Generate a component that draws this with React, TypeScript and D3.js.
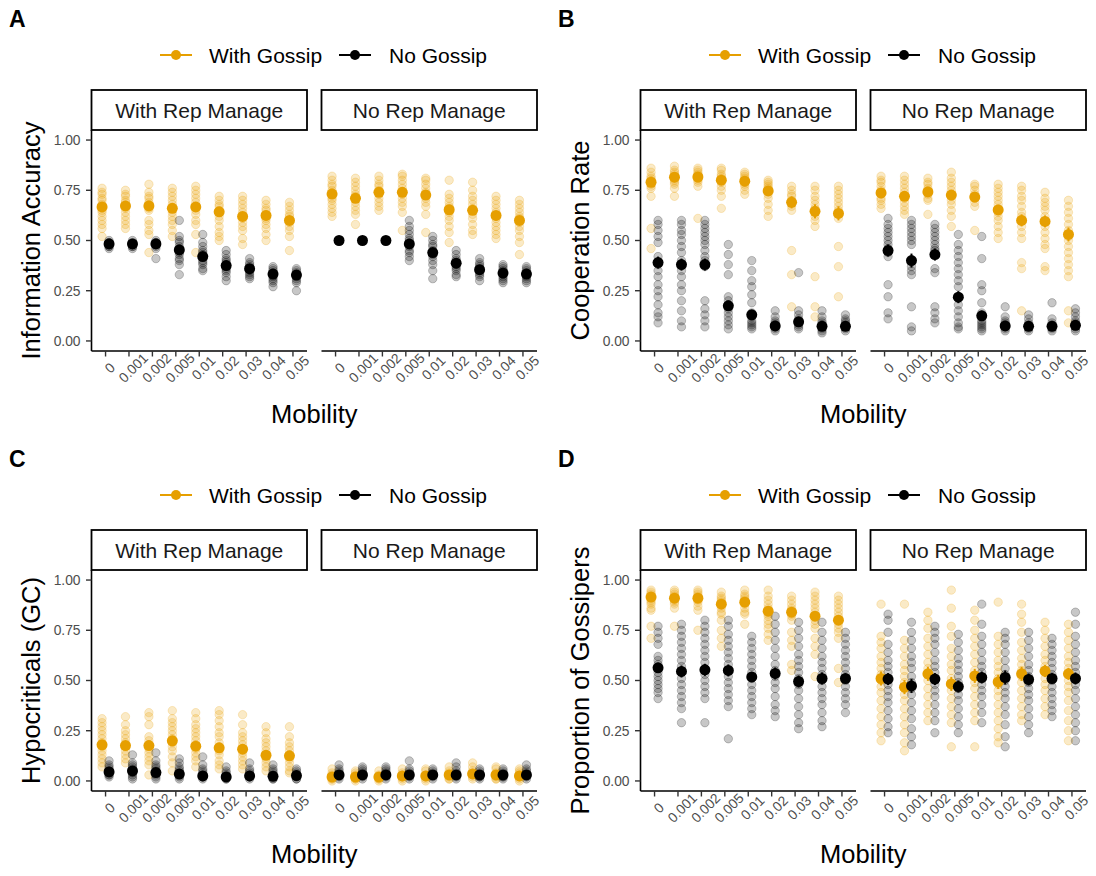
import React from 'react';
import * as d3 from 'd3';

const mobility = ['0', '0.001', '0.002', '0.005', '0.01', '0.02', '0.03', '0.04', '0.05'];
const facets = ['With Rep Manage', 'No Rep Manage'];
const gossip = ['With Gossip', 'No Gossip'];
const yTicks = [0, 0.25, 0.5, 0.75, 1];

// A: Information Accuracy
const accRepG = [
  [0.76, 0.74, 0.73, 0.71, 0.70, 0.68, 0.67, 0.65, 0.64, 0.62, 0.60, 0.58, 0.56, 0.52],
  [0.75, 0.73, 0.72, 0.70, 0.69, 0.67, 0.66, 0.64, 0.62, 0.60, 0.58, 0.56],
  [0.78, 0.74, 0.72, 0.71, 0.69, 0.68, 0.66, 0.65, 0.60, 0.58, 0.55, 0.53, 0.44],
  [0.76, 0.74, 0.72, 0.70, 0.68, 0.66, 0.64, 0.62, 0.60, 0.58, 0.55, 0.52],
  [0.77, 0.75, 0.73, 0.71, 0.69, 0.67, 0.65, 0.63, 0.60, 0.58, 0.53, 0.44],
  [0.72, 0.70, 0.68, 0.67, 0.65, 0.64, 0.62, 0.60, 0.57, 0.54, 0.52, 0.50],
  [0.72, 0.70, 0.68, 0.66, 0.64, 0.62, 0.61, 0.59, 0.57, 0.55, 0.51, 0.48],
  [0.70, 0.68, 0.66, 0.65, 0.63, 0.61, 0.60, 0.58, 0.56, 0.53, 0.50],
  [0.69, 0.67, 0.65, 0.63, 0.62, 0.60, 0.59, 0.57, 0.55, 0.52, 0.45],
];
const accRepGMean = [0.667, 0.672, 0.672, 0.66, 0.667, 0.643, 0.62, 0.625, 0.60];
const accRepGErr = [0.01, 0.01, 0.01, 0.01, 0.01, 0.01, 0.01, 0.01, 0.01];
const accRepN = [
  [0.50, 0.49, 0.49, 0.48, 0.48, 0.48, 0.47, 0.47, 0.46],
  [0.50, 0.49, 0.48, 0.48, 0.48, 0.47, 0.47, 0.46],
  [0.50, 0.49, 0.49, 0.48, 0.48, 0.47, 0.46, 0.41],
  [0.60, 0.52, 0.50, 0.49, 0.47, 0.46, 0.45, 0.44, 0.43, 0.41, 0.40, 0.38, 0.33],
  [0.53, 0.49, 0.47, 0.45, 0.44, 0.43, 0.42, 0.40, 0.39, 0.38, 0.36, 0.35],
  [0.45, 0.43, 0.41, 0.40, 0.39, 0.38, 0.37, 0.36, 0.35, 0.34, 0.32, 0.30],
  [0.41, 0.39, 0.38, 0.37, 0.36, 0.36, 0.35, 0.34, 0.33, 0.32, 0.31],
  [0.37, 0.36, 0.35, 0.34, 0.33, 0.33, 0.32, 0.31, 0.30, 0.29, 0.27],
  [0.36, 0.35, 0.34, 0.33, 0.33, 0.32, 0.31, 0.30, 0.29, 0.25],
];
const accRepNMean = [0.483, 0.483, 0.483, 0.453, 0.42, 0.375, 0.36, 0.333, 0.328];
const accRepNErr = [0.005, 0.005, 0.005, 0.01, 0.01, 0.01, 0.01, 0.01, 0.01];
const accNoG = [
  [0.82, 0.80, 0.78, 0.77, 0.75, 0.74, 0.73, 0.71, 0.70, 0.68, 0.66, 0.64, 0.62],
  [0.81, 0.79, 0.77, 0.75, 0.73, 0.72, 0.71, 0.69, 0.67, 0.65, 0.63, 0.58],
  [0.82, 0.80, 0.78, 0.77, 0.75, 0.74, 0.73, 0.71, 0.69, 0.67, 0.65],
  [0.83, 0.82, 0.80, 0.78, 0.76, 0.74, 0.73, 0.71, 0.69, 0.67, 0.64, 0.55],
  [0.81, 0.80, 0.78, 0.76, 0.74, 0.73, 0.71, 0.69, 0.67, 0.63, 0.54],
  [0.80, 0.73, 0.71, 0.69, 0.67, 0.66, 0.64, 0.62, 0.60, 0.57, 0.54, 0.49],
  [0.79, 0.75, 0.72, 0.70, 0.68, 0.66, 0.65, 0.63, 0.61, 0.58, 0.55, 0.53],
  [0.72, 0.70, 0.68, 0.66, 0.64, 0.62, 0.61, 0.59, 0.57, 0.55, 0.53, 0.51],
  [0.70, 0.68, 0.66, 0.64, 0.62, 0.61, 0.59, 0.57, 0.55, 0.52, 0.49, 0.43],
];
const accNoGMean = [0.731, 0.71, 0.74, 0.74, 0.726, 0.653, 0.65, 0.625, 0.60];
const accNoGErr = [0.01, 0.01, 0.01, 0.01, 0.01, 0.015, 0.015, 0.01, 0.015];
const accNoN = [
  [0.50, 0.50, 0.50],
  [0.50, 0.50, 0.50],
  [0.50, 0.50, 0.50],
  [0.60, 0.57, 0.55, 0.53, 0.51, 0.50, 0.48, 0.47, 0.45, 0.44, 0.42, 0.40],
  [0.52, 0.50, 0.48, 0.47, 0.45, 0.44, 0.43, 0.42, 0.40, 0.38, 0.35, 0.31],
  [0.45, 0.43, 0.41, 0.40, 0.39, 0.38, 0.37, 0.36, 0.35, 0.33, 0.32],
  [0.41, 0.39, 0.38, 0.37, 0.36, 0.35, 0.34, 0.33, 0.32, 0.30],
  [0.38, 0.37, 0.36, 0.35, 0.34, 0.33, 0.32, 0.31, 0.30, 0.29],
  [0.37, 0.36, 0.35, 0.34, 0.33, 0.32, 0.31, 0.30, 0.29],
];
const accNoNMean = [0.50, 0.50, 0.50, 0.483, 0.44, 0.387, 0.355, 0.338, 0.333];
const accNoNErr = [0, 0, 0, 0.01, 0.01, 0.01, 0.01, 0.01, 0.01];

// B: Cooperation Rate
const coopRepG = [
  [0.86, 0.84, 0.82, 0.81, 0.80, 0.79, 0.78, 0.77, 0.76, 0.72, 0.56, 0.46],
  [0.87, 0.85, 0.84, 0.83, 0.82, 0.81, 0.80, 0.79, 0.78, 0.76, 0.72],
  [0.86, 0.85, 0.84, 0.83, 0.82, 0.81, 0.80, 0.79, 0.77, 0.61],
  [0.86, 0.85, 0.83, 0.82, 0.81, 0.80, 0.79, 0.77, 0.75, 0.72, 0.66],
  [0.84, 0.83, 0.82, 0.81, 0.80, 0.79, 0.78, 0.77, 0.75, 0.73],
  [0.80, 0.79, 0.78, 0.77, 0.76, 0.75, 0.73, 0.71, 0.68, 0.65, 0.62],
  [0.77, 0.75, 0.73, 0.72, 0.70, 0.69, 0.67, 0.65, 0.45, 0.33, 0.17],
  [0.77, 0.75, 0.72, 0.70, 0.68, 0.66, 0.64, 0.62, 0.60, 0.57, 0.32, 0.17, 0.12],
  [0.77, 0.75, 0.73, 0.71, 0.69, 0.67, 0.65, 0.63, 0.61, 0.47, 0.37, 0.22],
];
const coopRepGMean = [0.79, 0.815, 0.816, 0.80, 0.795, 0.747, 0.69, 0.645, 0.635];
const coopRepGErr = [0.02, 0.01, 0.012, 0.015, 0.01, 0.015, 0.03, 0.035, 0.035];
const coopRepN = [
  [0.60, 0.58, 0.55, 0.52, 0.49, 0.42, 0.38, 0.35, 0.32, 0.28, 0.25, 0.22, 0.18, 0.14, 0.12, 0.09],
  [0.60, 0.58, 0.55, 0.53, 0.50, 0.47, 0.44, 0.40, 0.35, 0.32, 0.28, 0.25, 0.20, 0.15, 0.10, 0.07],
  [0.60, 0.58, 0.56, 0.54, 0.52, 0.50, 0.48, 0.45, 0.42, 0.40, 0.37, 0.20, 0.16, 0.13, 0.10, 0.07],
  [0.48, 0.43, 0.38, 0.33, 0.22, 0.20, 0.18, 0.16, 0.14, 0.12, 0.10, 0.08, 0.06],
  [0.40, 0.35, 0.30, 0.27, 0.23, 0.19, 0.14, 0.12, 0.10, 0.09, 0.08, 0.07, 0.06],
  [0.15, 0.12, 0.10, 0.09, 0.08, 0.07, 0.07, 0.06, 0.05],
  [0.34, 0.15, 0.13, 0.11, 0.10, 0.09, 0.08, 0.07, 0.06],
  [0.15, 0.12, 0.10, 0.09, 0.08, 0.07, 0.06, 0.05, 0.04],
  [0.13, 0.11, 0.10, 0.09, 0.08, 0.07, 0.06, 0.05],
];
const coopRepNMean = [0.39, 0.38, 0.38, 0.175, 0.13, 0.075, 0.095, 0.073, 0.073];
const coopRepNErr = [0.03, 0.03, 0.03, 0.025, 0.02, 0.01, 0.012, 0.01, 0.01];
const coopNoG = [
  [0.82, 0.80, 0.79, 0.77, 0.75, 0.74, 0.73, 0.71, 0.70, 0.68, 0.66],
  [0.82, 0.80, 0.78, 0.76, 0.74, 0.72, 0.71, 0.69, 0.67, 0.65, 0.63],
  [0.81, 0.79, 0.78, 0.76, 0.75, 0.74, 0.73, 0.71, 0.70, 0.63],
  [0.84, 0.81, 0.79, 0.77, 0.75, 0.73, 0.72, 0.70, 0.68, 0.65, 0.62, 0.57],
  [0.78, 0.77, 0.75, 0.73, 0.72, 0.71, 0.69, 0.67, 0.55],
  [0.78, 0.76, 0.74, 0.72, 0.70, 0.68, 0.66, 0.64, 0.62, 0.60, 0.57, 0.54, 0.51],
  [0.77, 0.75, 0.72, 0.70, 0.67, 0.64, 0.62, 0.60, 0.57, 0.54, 0.51, 0.39, 0.36, 0.15],
  [0.74, 0.71, 0.69, 0.67, 0.65, 0.62, 0.60, 0.57, 0.54, 0.51, 0.48, 0.46, 0.37, 0.35],
  [0.70, 0.67, 0.64, 0.61, 0.58, 0.55, 0.52, 0.50, 0.47, 0.44, 0.41, 0.38, 0.35, 0.32, 0.15, 0.09],
];
const coopNoGMean = [0.737, 0.72, 0.742, 0.726, 0.716, 0.652, 0.60, 0.595, 0.53];
const coopNoGErr = [0.015, 0.02, 0.015, 0.02, 0.015, 0.02, 0.03, 0.03, 0.035];
const coopNoN = [
  [0.61, 0.58, 0.56, 0.54, 0.52, 0.50, 0.48, 0.46, 0.44, 0.42, 0.28, 0.22, 0.14, 0.11],
  [0.60, 0.58, 0.56, 0.54, 0.52, 0.50, 0.48, 0.37, 0.35, 0.33, 0.17, 0.07, 0.05],
  [0.58, 0.56, 0.54, 0.52, 0.50, 0.48, 0.46, 0.45, 0.36, 0.34, 0.17, 0.14, 0.11, 0.09],
  [0.53, 0.48, 0.45, 0.42, 0.39, 0.36, 0.33, 0.30, 0.27, 0.22, 0.18, 0.15, 0.12, 0.09, 0.07, 0.06],
  [0.52, 0.41, 0.28, 0.25, 0.19, 0.14, 0.12, 0.10, 0.09, 0.08, 0.07, 0.06, 0.05],
  [0.17, 0.12, 0.10, 0.09, 0.08, 0.07, 0.06, 0.05],
  [0.13, 0.11, 0.09, 0.08, 0.07, 0.06, 0.05],
  [0.19, 0.11, 0.09, 0.08, 0.07, 0.06, 0.05],
  [0.16, 0.14, 0.12, 0.10, 0.09, 0.08, 0.07, 0.06, 0.05],
];
const coopNoNMean = [0.45, 0.40, 0.43, 0.218, 0.125, 0.075, 0.073, 0.073, 0.078];
const coopNoNErr = [0.03, 0.035, 0.03, 0.03, 0.025, 0.01, 0.01, 0.01, 0.01];

// C: Hypocriticals (GC)
const hypRepG = [
  [0.31, 0.29, 0.27, 0.25, 0.23, 0.21, 0.19, 0.17, 0.15, 0.13, 0.11, 0.09, 0.07],
  [0.32, 0.28, 0.25, 0.23, 0.21, 0.19, 0.17, 0.15, 0.13, 0.11, 0.09],
  [0.34, 0.32, 0.28, 0.22, 0.20, 0.18, 0.16, 0.14, 0.12, 0.10, 0.08, 0.03],
  [0.35, 0.31, 0.29, 0.27, 0.25, 0.23, 0.21, 0.19, 0.17, 0.15, 0.12, 0.09, 0.05],
  [0.34, 0.31, 0.28, 0.26, 0.24, 0.22, 0.20, 0.18, 0.16, 0.14, 0.12, 0.10, 0.07],
  [0.35, 0.33, 0.30, 0.27, 0.24, 0.22, 0.19, 0.17, 0.15, 0.13, 0.10, 0.08, 0.06],
  [0.33, 0.28, 0.24, 0.22, 0.20, 0.18, 0.16, 0.14, 0.12, 0.10, 0.08, 0.06],
  [0.27, 0.24, 0.21, 0.19, 0.17, 0.15, 0.13, 0.11, 0.09, 0.07, 0.05],
  [0.27, 0.22, 0.19, 0.17, 0.15, 0.13, 0.11, 0.09, 0.07, 0.05, 0.04],
];
const hypRepGMean = [0.18, 0.176, 0.176, 0.20, 0.173, 0.165, 0.158, 0.128, 0.125];
const hypRepGErr = [0.015, 0.015, 0.015, 0.015, 0.015, 0.015, 0.015, 0.015, 0.015];
const hypRepN = [
  [0.10, 0.08, 0.07, 0.06, 0.05, 0.05, 0.04, 0.03, 0.03, 0.02],
  [0.13, 0.09, 0.08, 0.07, 0.06, 0.05, 0.04, 0.03, 0.02, 0.01],
  [0.14, 0.10, 0.08, 0.07, 0.06, 0.05, 0.04, 0.03, 0.02, 0.01],
  [0.11, 0.09, 0.07, 0.06, 0.05, 0.04, 0.03, 0.02, 0.01],
  [0.12, 0.08, 0.06, 0.05, 0.04, 0.03, 0.02, 0.02, 0.01],
  [0.07, 0.05, 0.04, 0.03, 0.02, 0.02, 0.01, 0.01],
  [0.09, 0.06, 0.05, 0.04, 0.03, 0.02, 0.02, 0.01],
  [0.08, 0.06, 0.05, 0.04, 0.03, 0.02, 0.01, 0.01],
  [0.06, 0.05, 0.04, 0.03, 0.03, 0.02, 0.01, 0.01],
];
const hypRepNMean = [0.045, 0.05, 0.042, 0.034, 0.025, 0.02, 0.025, 0.023, 0.027];
const hypRepNErr = [0.008, 0.008, 0.008, 0.008, 0.008, 0.006, 0.006, 0.006, 0.006];
const hypNoG = [
  [0.06, 0.04, 0.03, 0.02, 0.02, 0.01, 0.01, 0.00],
  [0.05, 0.04, 0.03, 0.02, 0.01, 0.01, 0.00],
  [0.05, 0.03, 0.02, 0.02, 0.01, 0.01, 0.00],
  [0.06, 0.04, 0.03, 0.02, 0.02, 0.01, 0.00],
  [0.06, 0.05, 0.03, 0.02, 0.02, 0.01, 0.00],
  [0.07, 0.05, 0.04, 0.03, 0.02, 0.01, 0.01],
  [0.09, 0.07, 0.05, 0.04, 0.03, 0.02, 0.01],
  [0.07, 0.06, 0.04, 0.03, 0.02, 0.01, 0.01],
  [0.06, 0.05, 0.04, 0.03, 0.02, 0.01, 0.00],
];
const hypNoGMean = [0.02, 0.02, 0.02, 0.025, 0.025, 0.03, 0.035, 0.03, 0.025];
const hypNoGErr = [0.006, 0.006, 0.006, 0.006, 0.006, 0.006, 0.008, 0.006, 0.006];
const hypNoN = [
  [0.08, 0.06, 0.05, 0.04, 0.03, 0.03, 0.02, 0.01],
  [0.07, 0.06, 0.05, 0.04, 0.03, 0.02, 0.01],
  [0.07, 0.06, 0.05, 0.04, 0.03, 0.02, 0.01],
  [0.10, 0.06, 0.05, 0.04, 0.03, 0.02, 0.01],
  [0.06, 0.05, 0.04, 0.03, 0.03, 0.02, 0.01],
  [0.09, 0.07, 0.05, 0.04, 0.03, 0.02, 0.01],
  [0.06, 0.05, 0.04, 0.03, 0.02, 0.02, 0.01],
  [0.06, 0.05, 0.04, 0.03, 0.02, 0.02, 0.01],
  [0.08, 0.06, 0.05, 0.04, 0.03, 0.02, 0.01],
];
const hypNoNMean = [0.03, 0.03, 0.03, 0.03, 0.03, 0.03, 0.03, 0.03, 0.03];
const hypNoNErr = [0.006, 0.006, 0.006, 0.006, 0.006, 0.006, 0.006, 0.006, 0.006];

// D: Proportion of Gossipers
const propRepG = [
  [0.95, 0.94, 0.93, 0.92, 0.91, 0.90, 0.89, 0.88, 0.86, 0.85, 0.77, 0.71],
  [0.95, 0.94, 0.93, 0.92, 0.91, 0.90, 0.89, 0.88, 0.86, 0.77],
  [0.95, 0.94, 0.93, 0.92, 0.91, 0.90, 0.89, 0.87, 0.85, 0.75],
  [0.94, 0.92, 0.91, 0.90, 0.89, 0.88, 0.86, 0.84, 0.83, 0.80, 0.75, 0.71, 0.67],
  [0.95, 0.93, 0.92, 0.91, 0.90, 0.89, 0.88, 0.86, 0.84, 0.83, 0.78],
  [0.95, 0.92, 0.90, 0.88, 0.86, 0.85, 0.83, 0.82, 0.80, 0.78, 0.76, 0.73, 0.70],
  [0.92, 0.90, 0.88, 0.86, 0.85, 0.83, 0.82, 0.80, 0.74, 0.70, 0.67, 0.58, 0.55],
  [0.94, 0.92, 0.90, 0.88, 0.86, 0.84, 0.82, 0.80, 0.78, 0.76, 0.71, 0.67, 0.63, 0.52],
  [0.92, 0.90, 0.88, 0.86, 0.84, 0.82, 0.80, 0.78, 0.76, 0.74, 0.71, 0.56, 0.49],
];
const propRepGMean = [0.915, 0.91, 0.91, 0.88, 0.89, 0.845, 0.84, 0.82, 0.80];
const propRepGErr = [0.01, 0.01, 0.01, 0.015, 0.01, 0.015, 0.02, 0.02, 0.02];
const propRepN = [
  [0.77, 0.74, 0.71, 0.68, 0.62, 0.60, 0.58, 0.56, 0.54, 0.52, 0.50, 0.48, 0.46, 0.44, 0.41],
  [0.78, 0.75, 0.72, 0.69, 0.66, 0.63, 0.60, 0.57, 0.54, 0.51, 0.48, 0.45, 0.42, 0.39, 0.36, 0.29],
  [0.80, 0.77, 0.74, 0.71, 0.68, 0.65, 0.62, 0.59, 0.56, 0.53, 0.50, 0.47, 0.44, 0.41, 0.29],
  [0.80, 0.77, 0.73, 0.70, 0.67, 0.64, 0.61, 0.58, 0.55, 0.52, 0.49, 0.46, 0.43, 0.40, 0.37, 0.21],
  [0.72, 0.69, 0.66, 0.63, 0.60, 0.57, 0.54, 0.51, 0.48, 0.45, 0.42, 0.39, 0.36, 0.33],
  [0.82, 0.78, 0.74, 0.70, 0.66, 0.62, 0.58, 0.55, 0.52, 0.49, 0.46, 0.42, 0.38, 0.35, 0.32],
  [0.79, 0.75, 0.71, 0.67, 0.63, 0.60, 0.57, 0.54, 0.51, 0.48, 0.45, 0.41, 0.37, 0.33, 0.29, 0.26],
  [0.79, 0.74, 0.70, 0.66, 0.62, 0.59, 0.56, 0.53, 0.50, 0.47, 0.44, 0.41, 0.38, 0.34, 0.30, 0.27],
  [0.74, 0.71, 0.68, 0.65, 0.62, 0.59, 0.56, 0.53, 0.50, 0.47, 0.44, 0.41, 0.38, 0.34],
];
const propRepNMean = [0.563, 0.545, 0.553, 0.55, 0.518, 0.535, 0.495, 0.51, 0.51];
const propRepNErr = [0.025, 0.03, 0.03, 0.03, 0.025, 0.03, 0.03, 0.03, 0.025];
const propNoG = [
  [0.88, 0.72, 0.69, 0.66, 0.62, 0.59, 0.56, 0.53, 0.50, 0.47, 0.44, 0.40, 0.36, 0.32, 0.28, 0.24, 0.20],
  [0.88, 0.70, 0.66, 0.62, 0.58, 0.55, 0.52, 0.49, 0.46, 0.43, 0.40, 0.36, 0.32, 0.28, 0.24, 0.19, 0.15],
  [0.84, 0.80, 0.76, 0.71, 0.67, 0.63, 0.59, 0.56, 0.53, 0.50, 0.46, 0.42, 0.38, 0.34, 0.30],
  [0.95, 0.86, 0.77, 0.72, 0.66, 0.62, 0.58, 0.55, 0.51, 0.48, 0.45, 0.41, 0.37, 0.33, 0.29, 0.17],
  [0.85, 0.80, 0.75, 0.71, 0.67, 0.63, 0.59, 0.55, 0.52, 0.49, 0.46, 0.42, 0.38, 0.34, 0.30, 0.17],
  [0.89, 0.72, 0.68, 0.64, 0.60, 0.57, 0.54, 0.51, 0.48, 0.45, 0.42, 0.38, 0.34, 0.30, 0.26, 0.22, 0.19],
  [0.88, 0.83, 0.79, 0.74, 0.69, 0.65, 0.61, 0.58, 0.55, 0.52, 0.49, 0.45, 0.41, 0.37, 0.33, 0.30],
  [0.79, 0.75, 0.71, 0.67, 0.63, 0.60, 0.57, 0.54, 0.51, 0.48, 0.45, 0.41, 0.37, 0.33],
  [0.78, 0.74, 0.70, 0.66, 0.62, 0.59, 0.56, 0.53, 0.50, 0.47, 0.44, 0.40, 0.35, 0.30, 0.25, 0.20],
];
const propNoGMean = [0.51, 0.467, 0.533, 0.483, 0.523, 0.493, 0.533, 0.547, 0.533];
const propNoGErr = [0.035, 0.035, 0.035, 0.035, 0.035, 0.035, 0.035, 0.03, 0.03];
const propNoN = [
  [0.83, 0.80, 0.74, 0.68, 0.64, 0.60, 0.57, 0.54, 0.51, 0.48, 0.45, 0.42, 0.39, 0.35, 0.31, 0.27, 0.24],
  [0.79, 0.74, 0.70, 0.66, 0.62, 0.59, 0.56, 0.52, 0.49, 0.46, 0.43, 0.39, 0.35, 0.31, 0.26, 0.22, 0.18],
  [0.77, 0.74, 0.71, 0.68, 0.64, 0.60, 0.57, 0.54, 0.51, 0.48, 0.45, 0.42, 0.38, 0.34, 0.30, 0.24],
  [0.73, 0.69, 0.65, 0.61, 0.58, 0.55, 0.52, 0.49, 0.46, 0.43, 0.40, 0.36, 0.32, 0.28, 0.24],
  [0.88, 0.78, 0.72, 0.68, 0.64, 0.60, 0.57, 0.54, 0.51, 0.48, 0.45, 0.42, 0.38, 0.34, 0.29],
  [0.74, 0.71, 0.68, 0.64, 0.60, 0.56, 0.53, 0.50, 0.47, 0.44, 0.41, 0.37, 0.33, 0.28, 0.22, 0.17],
  [0.74, 0.70, 0.66, 0.62, 0.58, 0.55, 0.52, 0.49, 0.46, 0.43, 0.40, 0.36, 0.32, 0.28, 0.24],
  [0.71, 0.68, 0.65, 0.62, 0.59, 0.56, 0.53, 0.50, 0.47, 0.44, 0.41, 0.38, 0.35, 0.32],
  [0.84, 0.78, 0.72, 0.68, 0.64, 0.60, 0.57, 0.54, 0.51, 0.48, 0.45, 0.41, 0.37, 0.33, 0.29, 0.25, 0.20],
];
const propNoNMean = [0.507, 0.473, 0.507, 0.47, 0.515, 0.515, 0.505, 0.51, 0.51];
const propNoNErr = [0.03, 0.035, 0.03, 0.03, 0.03, 0.035, 0.03, 0.025, 0.03];

const ORANGE = '#E69F00';
const colors = [ORANGE, '#000000'];
const FONT = 'Liberation Sans, Arial, sans-serif';

// layout of a single panel (panel A); the others are offset
const FACET_X = [[91.5, 307], [321.5, 537]];
const STRIP_TOP = 90;
const STRIP_BOTTOM = 130;
const PLOT_BOTTOM = 351;

const panels = [
  {
    tag: 'A', title: 'Information Accuracy', dx: 0, dy: 0,
    groups: [
      [{ points: accRepG, mean: accRepGMean, err: accRepGErr }, { points: accRepN, mean: accRepNMean, err: accRepNErr }],
      [{ points: accNoG, mean: accNoGMean, err: accNoGErr }, { points: accNoN, mean: accNoNMean, err: accNoNErr }],
    ],
  },
  {
    tag: 'B', title: 'Cooperation Rate', dx: 549, dy: 0,
    groups: [
      [{ points: coopRepG, mean: coopRepGMean, err: coopRepGErr }, { points: coopRepN, mean: coopRepNMean, err: coopRepNErr }],
      [{ points: coopNoG, mean: coopNoGMean, err: coopNoGErr }, { points: coopNoN, mean: coopNoNMean, err: coopNoNErr }],
    ],
  },
  {
    tag: 'C', title: 'Hypocriticals (GC)', dx: 0, dy: 440,
    groups: [
      [{ points: hypRepG, mean: hypRepGMean, err: hypRepGErr }, { points: hypRepN, mean: hypRepNMean, err: hypRepNErr }],
      [{ points: hypNoG, mean: hypNoGMean, err: hypNoGErr }, { points: hypNoN, mean: hypNoNMean, err: hypNoNErr }],
    ],
  },
  {
    tag: 'D', title: 'Proportion of Gossipers', dx: 549, dy: 440,
    groups: [
      [{ points: propRepG, mean: propRepGMean, err: propRepGErr }, { points: propRepN, mean: propRepNMean, err: propRepNErr }],
      [{ points: propNoG, mean: propNoGMean, err: propNoGErr }, { points: propNoN, mean: propNoNMean, err: propNoNErr }],
    ],
  },
];

function Panel({ tag, title, dx, dy, groups }) {
  const y = d3.scaleLinear().domain([-0.05, 1.05]).range([PLOT_BOTTOM, STRIP_BOTTOM]);
  const dodge = d3.scalePoint().domain(gossip).range([-3.5, 3.5]);
  const legendX = [160, 339];
  const legendTextX = [209, 389];

  return (
    <g transform={`translate(${dx},${dy})`} fontFamily={FONT}>
      <text x={9} y={27} fontSize={23} fontWeight="bold">{tag}</text>

      {/* legend */}
      {gossip.map((g, i) => (
        <g key={g}>
          <line x1={legendX[i]} x2={legendX[i] + 32} y1={55} y2={55} stroke={colors[i]} strokeWidth={2} />
          <circle cx={legendX[i] + 16} cy={55} r={5} fill={colors[i]} />
          <text x={legendTextX[i]} y={63} fontSize={21}>{g}</text>
        </g>
      ))}

      {/* y axis */}
      <text
        transform={`translate(40,${(STRIP_BOTTOM + PLOT_BOTTOM) / 2}) rotate(-90)`}
        textAnchor="middle" fontSize={25.5}
      >{title}</text>
      <line x1={FACET_X[0][0]} x2={FACET_X[0][0]} y1={STRIP_BOTTOM} y2={PLOT_BOTTOM} stroke="#000" strokeWidth={1.6} />
      {yTicks.map((t) => (
        <g key={t}>
          <line x1={FACET_X[0][0] - 5.5} x2={FACET_X[0][0]} y1={y(t)} y2={y(t)} stroke="#333" strokeWidth={1.4} />
          <text x={FACET_X[0][0] - 11} y={y(t)} dy="0.35em" textAnchor="end" fontSize={13.8} fill="#4D4D4D">
            {d3.format('.2f')(t)}
          </text>
        </g>
      ))}

      {facets.map((f, fi) => {
        const [x0, x1] = FACET_X[fi];
        const x = d3.scalePoint().domain(mobility).range([x0, x1]).padding(0.6);
        return (
          <g key={f}>
            <rect x={x0} y={STRIP_TOP} width={x1 - x0} height={STRIP_BOTTOM - STRIP_TOP}
              fill="#fff" stroke="#000" strokeWidth={1.8} />
            <text x={(x0 + x1) / 2} y={STRIP_TOP + 28} textAnchor="middle" fontSize={21} fill="#1A1A1A">{f}</text>

            <line x1={x0} x2={x1} y1={PLOT_BOTTOM} y2={PLOT_BOTTOM} stroke="#000" strokeWidth={1.6} />
            {mobility.map((m) => (
              <g key={m}>
                <line x1={x(m)} x2={x(m)} y1={PLOT_BOTTOM} y2={PLOT_BOTTOM + 5.5} stroke="#333" strokeWidth={1.4} />
                <text
                  transform={`translate(${x(m) + 4.5},${PLOT_BOTTOM + 17}) rotate(-45)`}
                  textAnchor="middle" dominantBaseline="central" fontSize={13.8} fill="#4D4D4D"
                >{m}</text>
              </g>
            ))}

            {/* raw runs */}
            {groups[fi].map((grp, gi) => (
              <g key={gossip[gi]}>
                {grp.points.map((vals, ci) =>
                  vals.map((v, k) => (
                    <circle key={`${ci}-${k}`} cx={x(mobility[ci]) + dodge(gossip[gi])} cy={y(v)} r={4.2}
                      fill={colors[gi]} stroke={colors[gi]} strokeWidth={1}
                      fillOpacity={0.22} strokeOpacity={0.22} />
                  ))
                )}
              </g>
            ))}

            {/* means with error bars */}
            {groups[fi].map((grp, gi) => (
              <g key={`m-${gossip[gi]}`}>
                {grp.mean.map((v, ci) => {
                  const cx = x(mobility[ci]) + dodge(gossip[gi]);
                  return (
                    <g key={ci}>
                      <line x1={cx} x2={cx} y1={y(v - grp.err[ci])} y2={y(v + grp.err[ci])}
                        stroke={colors[gi]} strokeWidth={2} />
                      <circle cx={cx} cy={y(v)} r={5.5} fill={colors[gi]} />
                    </g>
                  );
                })}
              </g>
            ))}
          </g>
        );
      })}

      <text x={(FACET_X[0][0] + FACET_X[1][1]) / 2} y={423} textAnchor="middle" fontSize={25.5}>Mobility</text>
    </g>
  );
}

export default function App() {
  return (
    <svg width={1096} height={876} style={{ position: 'absolute', left: 0, top: 0, background: '#fff' }}>
      <rect width={1096} height={876} fill="#fff" />
      {panels.map((p) => (
        <Panel key={p.tag} {...p} />
      ))}
    </svg>
  );
}
